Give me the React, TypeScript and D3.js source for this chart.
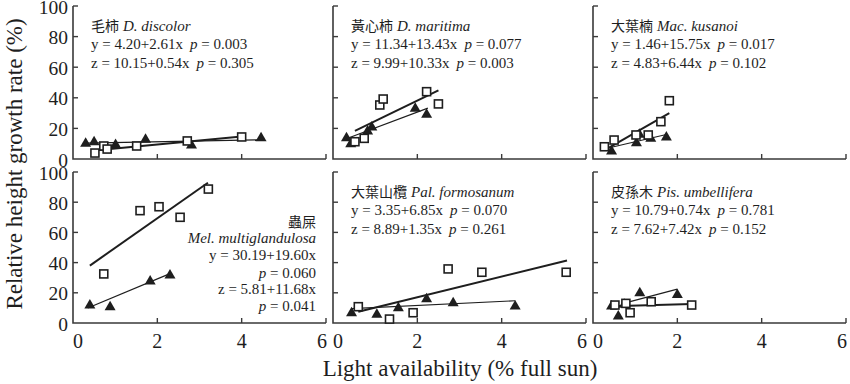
import React from 'react';
import * as d3 from 'd3';

// Panel order: top row left→right, then bottom row left→right
const speciesCN = ['毛柿', '黃心柿', '大葉楠', '蟲屎', '大葉山欖', '皮孫木'];
const speciesLatin = ['D. discolor', 'D. maritima', 'Mac. kusanoi', 'Mel. multiglandulosa', 'Pal. formosanum', 'Pis. umbellifera'];
const fitYText = ['y = 4.20+2.61x', 'y = 11.34+13.43x', 'y = 1.46+15.75x', 'y = 30.19+19.60x', 'y = 3.35+6.85x', 'y = 10.79+0.74x'];
const pYText = ['0.003', '0.077', '0.017', '0.060', '0.070', '0.781'];
const fitZText = ['z = 10.15+0.54x', 'z = 9.99+10.33x', 'z = 4.83+6.44x', 'z = 5.81+11.68x', 'z = 8.89+1.35x', 'z = 7.62+7.42x'];
const pZText = ['0.305', '0.003', '0.102', '0.041', '0.261', '0.152'];

// open squares (y fit)
const openX = [
  [0.52, 0.73, 0.81, 1.51, 2.71, 4.0],
  [0.52, 0.74, 1.11, 1.19, 2.22, 2.5],
  [0.27, 0.5, 1.02, 1.31, 1.61, 1.81],
  [0.73, 1.59, 2.04, 2.54, 3.21],
  [0.6, 1.34, 1.9, 2.73, 3.53, 5.53],
  [0.52, 0.78, 0.88, 1.38, 2.34],
];
const openY = [
  [3.9, 8.5, 6.5, 8.5, 11.8, 14.4],
  [11.3, 13.5, 35.3, 39.2, 44, 36],
  [8, 12.4, 15.7, 15.7, 24.4, 38.1],
  [32.5, 74.4, 77, 70, 88.7],
  [10.8, 2.6, 6.8, 35.8, 33.6, 33.6],
  [11.9, 13, 6.8, 14.1, 11.9],
];
// filled triangles (z fit)
const filledX = [
  [0.3, 0.5, 1.01, 1.72, 2.81, 4.46],
  [0.32, 0.42, 0.82, 0.92, 1.95, 2.22],
  [0.44, 1.03, 1.1, 1.37, 1.74],
  [0.4, 0.88, 1.83, 2.3],
  [0.44, 1.04, 1.55, 2.22, 2.85, 4.32],
  [0.44, 0.6, 0.74, 1.11, 2.0],
];
const filledY = [
  [11, 12, 10.2, 13.5, 9.8, 14.5],
  [14.6, 10.7, 19, 21.6, 33.8, 29.9],
  [5.9, 11.3, 16.8, 14.2, 15],
  [12.6, 11.5, 28.5, 32.5],
  [7.5, 6.4, 10.8, 16.8, 14.1, 11.9],
  [11.9, 5.3, 13, 20.7, 19.6],
];
const yCoef = [[4.2, 2.61], [11.34, 13.43], [1.46, 15.75], [30.19, 19.6], [3.35, 6.85], [10.79, 0.74]];
const zCoef = [[10.15, 0.54], [9.99, 10.33], [4.83, 6.44], [5.81, 11.68], [8.89, 1.35], [7.62, 7.42]];
const yLineRange = [[0.5, 4.0], [0.52, 2.5], [0.35, 1.81], [0.4, 3.2], [0.6, 5.55], [0.44, 2.34]];
const zLineRange = [[0.3, 4.46], [0.3, 2.25], [0.44, 1.74], [0.35, 2.3], [0.44, 4.32], [0.7, 2.0]];

const xTicks = [0, 2, 4, 6];
const yTicks = [0, 20, 40, 60, 80, 100];

const W = 850;
const H = 384;
const colLeft = [73, 333, 593];
const panelW = 253;
const rowTop = [6, 172];
const rowBottom = [159, 323];

const ink = '#1e1e1e';
const axisCol = '#3a3a3a';
const serif = "'Liberation Serif', 'DejaVu Serif', serif";
const cjk = "'Noto Sans CJK TC', sans-serif";

const triPath = (cx: number, cy: number) =>
  `M${cx},${cy - 5}L${cx + 5.5},${cy + 4.5}L${cx - 5.5},${cy + 4.5}Z`;

function Panel({ i }: { i: number }) {
  const col = i % 3;
  const row = Math.floor(i / 3);
  const x = d3.scaleLinear().domain([0, 6]).range([colLeft[col], colLeft[col] + panelW]);
  const y = d3.scaleLinear().domain([0, 100]).range([rowBottom[row], rowTop[row]]);
  const line = d3.line<number[]>().x(d => x(d[0])).y(d => y(d[1]));
  const yl = yLineRange[i].map(v => [v, yCoef[i][0] + yCoef[i][1] * v]);
  const zl = zLineRange[i].map(v => [v, zCoef[i][0] + zCoef[i][1] * v]);
  const tx = colLeft[col] + 18;
  const ty = rowTop[row];
  const fs = 15;
  const txt = { fontFamily: serif, fill: ink };

  return (
    <g>
      {/* axes */}
      <path d={`M${x(0)},${y(100)}V${y(0)}H${x(6)}`} fill="none" stroke={axisCol} strokeWidth={1.6} />
      {yTicks.slice(1).map(t => (
        <line key={'yt' + t} x1={x(0)} x2={x(0) + 5} y1={y(t)} y2={y(t)} stroke={axisCol} strokeWidth={1.4} />
      ))}
      {xTicks.slice(1).map(t => (
        <line key={'xt' + t} x1={x(t)} x2={x(t)} y1={y(0)} y2={y(0) - 5} stroke={axisCol} strokeWidth={1.4} />
      ))}
      {row === 1 &&
        xTicks.map((t, k) => (
          <text
            key={'xl' + t}
            x={x(t) + (k === 0 ? 5 : k === xTicks.length - 1 ? -4 : 0)}
            y={rowBottom[1] + 25}
            textAnchor="middle"
            fontSize={20}
            style={txt}
          >
            {t}
          </text>
        ))}
      {col === 0 &&
        yTicks.map(t => (
          <text key={'yl' + t} x={x(0) - 5} y={y(t) + 7.5} textAnchor="end" fontSize={19.5} style={txt}>
            {t}
          </text>
        ))}

      {/* fit lines */}
      <path d={line(zl) || ''} fill="none" stroke={ink} strokeWidth={1.2} />
      <path d={line(yl) || ''} fill="none" stroke={ink} strokeWidth={2} />

      {/* points */}
      {filledX[i].map((v, k) => (
        <path key={'f' + k} d={triPath(x(v), y(filledY[i][k]))} fill={ink} />
      ))}
      {openX[i].map((v, k) => (
        <rect
          key={'o' + k}
          x={x(v) - 4}
          y={y(openY[i][k]) - 4}
          width={8}
          height={8}
          fill="#fff"
          stroke={ink}
          strokeWidth={1.6}
        />
      ))}

      {/* annotation */}
      {i !== 3 ? (
        <g fontSize={fs} style={txt}>
          <text x={tx} y={ty + 25}>
            <tspan style={{ fontFamily: cjk }} fontSize={14}>{speciesCN[i]}</tspan>
            <tspan dx={4} fontStyle="italic">{speciesLatin[i]}</tspan>
          </text>
          <text x={tx} y={ty + 43}>
            {fitYText[i]}
            <tspan dx={7} fontStyle="italic">p</tspan> = {pYText[i]}
          </text>
          <text x={tx} y={ty + 62}>
            {fitZText[i]}
            <tspan dx={7} fontStyle="italic">p</tspan> = {pZText[i]}
          </text>
        </g>
      ) : (
        <g fontSize={fs} style={txt} textAnchor="end">
          <text x={x(6) - 10} y={227} style={{ fontFamily: cjk }} fontSize={14}>{speciesCN[i]}</text>
          <text x={x(6) - 10} y={243} fontStyle="italic">{speciesLatin[i]}</text>
          <text x={x(6) - 10} y={260}>{fitYText[i]}</text>
          <text x={x(6) - 10} y={278}>
            <tspan fontStyle="italic">p</tspan> = {pYText[i]}
          </text>
          <text x={x(6) - 10} y={294}>{fitZText[i]}</text>
          <text x={x(6) - 10} y={311}>
            <tspan fontStyle="italic">p</tspan> = {pZText[i]}
          </text>
        </g>
      )}
    </g>
  );
}

export default function App() {
  return (
    <div style={{ position: 'absolute', left: 0, top: 0 }}>
      <svg width={W} height={H} viewBox={`0 0 ${W} ${H}`} style={{ display: 'block', background: '#fff' }}>
        {speciesCN.map((_, i) => (
          <Panel key={i} i={i} />
        ))}
        <text
          transform={`translate(14,164) rotate(-90)`}
          textAnchor="middle"
          dominantBaseline="central"
          fontSize={23}
          style={{ fontFamily: serif, fill: ink }}
        >
          Relative height growth rate (%)
        </text>
        <text x={460} y={376} textAnchor="middle" fontSize={23} style={{ fontFamily: serif, fill: ink }}>
          Light availability (% full sun)
        </text>
      </svg>
    </div>
  );
}
